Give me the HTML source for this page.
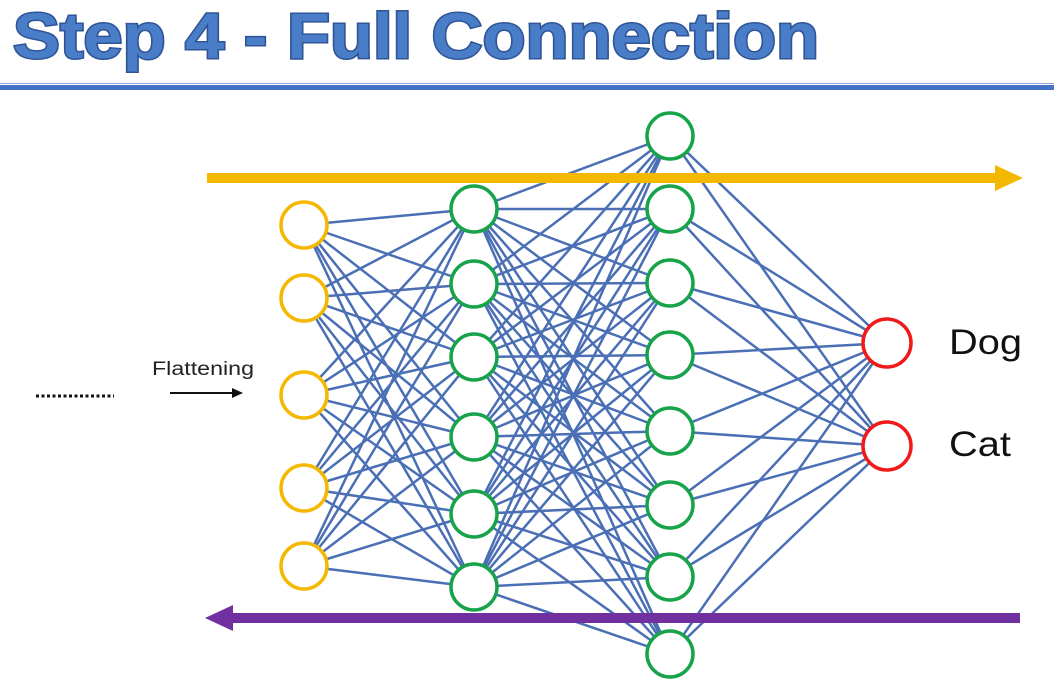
<!DOCTYPE html>
<html><head><meta charset="utf-8"><style>
body{margin:0;background:#fff;}
svg{display:block;}
</style></head><body>
<svg id="chart" width="1054" height="687" viewBox="0 0 1054 687" xmlns="http://www.w3.org/2000/svg">
<text x="13" y="58" font-family="Liberation Sans, sans-serif" font-weight="bold" font-size="64" fill="#4a7dc8" stroke="#2f5597" stroke-width="3" paint-order="stroke" textLength="806" lengthAdjust="spacingAndGlyphs">Step 4 - Full Connection</text>
<rect x="0" y="85" width="1054" height="5" fill="#4472c4"/>
<line x1="0" y1="83.5" x2="1054" y2="83.5" stroke="#8aa8d8" stroke-width="1"/>
<g id="edges"></g>
<g id="nodes"></g>
<g>
<line x1="207" y1="178" x2="1000" y2="178" stroke="#f5b800" stroke-width="10"/>
<polygon points="995,165 1023,178 995,191" fill="#f5b800"/>
</g>
<g>
<line x1="1020" y1="618" x2="228" y2="618" stroke="#7030a0" stroke-width="10"/>
<polygon points="233,605 205,618 233,631" fill="#7030a0"/>
</g>
<line x1="36" y1="396" x2="114" y2="396" stroke="#111" stroke-width="3" stroke-dasharray="3,2.5"/>
<text x="152" y="375" font-family="Liberation Sans, sans-serif" font-size="19" fill="#222" textLength="102" lengthAdjust="spacingAndGlyphs">Flattening</text>
<g>
<line x1="170" y1="393" x2="234" y2="393" stroke="#111" stroke-width="2"/>
<polygon points="232,388 243,393 232,398" fill="#111"/>
</g>
<text x="949" y="354" font-family="Liberation Sans, sans-serif" font-size="35" fill="#111" textLength="73" lengthAdjust="spacingAndGlyphs">Dog</text>
<text x="949" y="456" font-family="Liberation Sans, sans-serif" font-size="35" fill="#111" textLength="62" lengthAdjust="spacingAndGlyphs">Cat</text>
</svg>
<script>
const layerX = [304, 474, 670, 887];
const layer1Y = [225, 298, 395, 488, 566];
const layer2Y = [209, 284, 357, 437, 514, 587];
const layer3Y = [136, 209, 283, 355, 431, 505, 577, 654];
const outputY = [343, 446];
const layerColors = ['#f5b800', '#17a34a', '#17a34a', '#f01a1a'];
const layers = [layer1Y, layer2Y, layer3Y, outputY];
const NS = 'http://www.w3.org/2000/svg';
const edges = document.getElementById('edges');
const nodes = document.getElementById('nodes');
for (let l = 0; l < layers.length - 1; l++) {
  layers[l].forEach((ya, i) => {
    layers[l + 1].forEach((yb, j) => {
      const ln = document.createElementNS(NS, 'line');
      ln.setAttribute('x1', layerX[l]); ln.setAttribute('y1', ya);
      ln.setAttribute('x2', layerX[l + 1]); ln.setAttribute('y2', yb);
      ln.setAttribute('stroke', '#4a6fb5'); ln.setAttribute('stroke-width', '2.5');
      
      
      edges.appendChild(ln);
    });
  });
}
layers.forEach((ys, l) => {
  ys.forEach((y) => {
    const c = document.createElementNS(NS, 'circle');
    c.setAttribute('cx', layerX[l]); c.setAttribute('cy', y);
    c.setAttribute('r', l === 3 ? 24 : 23);
    c.setAttribute('fill', '#fff'); c.setAttribute('stroke', layerColors[l]);
    c.setAttribute('stroke-width', '3.5');
    
    
    nodes.appendChild(c);
  });
});
</script>
</body></html>
